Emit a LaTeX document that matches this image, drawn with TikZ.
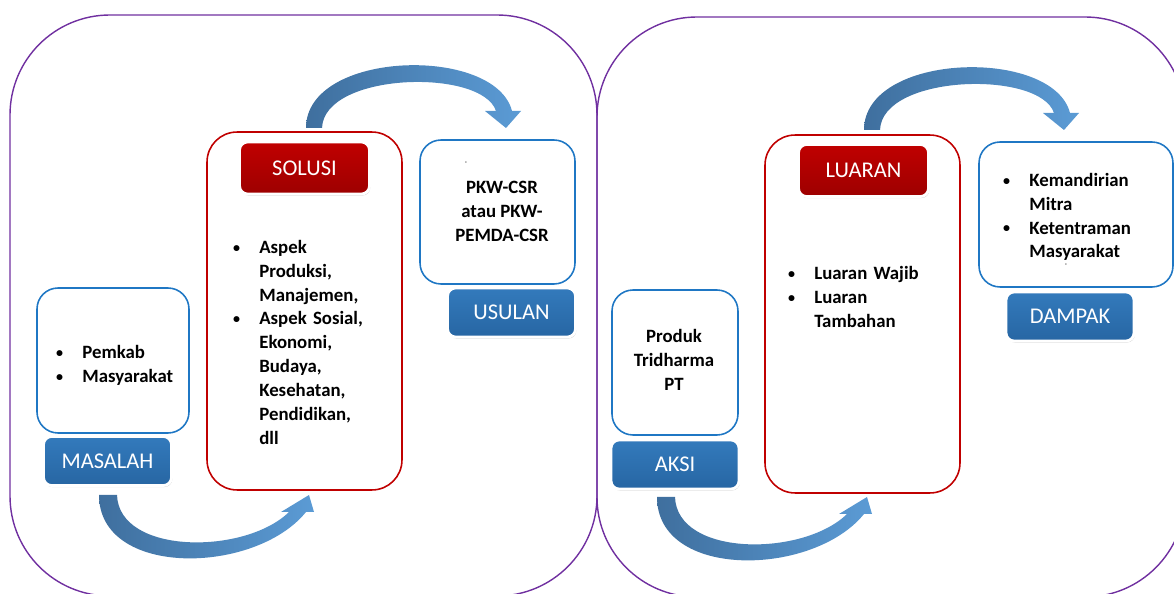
\documentclass[tikz,border=0pt]{standalone}
\usepackage{fontspec}
\setmainfont{Carlito}
\usetikzlibrary{shadows}
\definecolor{ungu}{HTML}{7030A0}
\definecolor{biru}{HTML}{1F77C4}
\definecolor{merah}{HTML}{C00000}
\definecolor{birumuda}{HTML}{337ABC}
\definecolor{birutua}{HTML}{2766A3}
\definecolor{panahtua}{HTML}{3F6F9E}
\definecolor{panahmuda}{HTML}{5B9BD5}
\newcommand{\butir}[1]{\par\noindent\hangindent=0.54cm\hangafter=1\makebox[0.54cm][l]{\hspace{0.5pt}\raisebox{0.6pt}{\fontsize{8}{8}\selectfont\textbullet}}#1\par}
\begin{document}
\begin{tikzpicture}[x=0.02cm, y=-0.02cm, line join=round,
	panel/.style={draw=ungu, line width=0.8pt, rounded corners=2cm},
	isi/.style={draw=biru, line width=0.9pt, rounded corners=0.42cm},
	kotak/.style={draw=merah, line width=0.9pt, rounded corners=0.6cm},
	tombol/.style={rounded corners=0.16cm, draw=white, line width=1.6pt, text=white,
		font=\fontsize{12.8}{15}\selectfont,
		drop shadow={shadow xshift=0.5pt, shadow yshift=-0.9pt, opacity=0.35}},
	tombolbiru/.style={tombol, top color=birumuda, bottom color=birutua, minimum width=2.56cm, minimum height=0.98cm},
	tombolmerah/.style={tombol, top color=merah, bottom color=merah!82!black, minimum width=2.6cm, minimum height=1.04cm},
	teks/.style={inner sep=0pt, font=\bfseries\fontsize{10.7}{13.6}\selectfont},
	panah/.style={left color=panahtua, right color=panahmuda}]
	\useasboundingbox (0,0) rectangle (1174,594);
	% panel kiri dan kanan
	\draw[panel] (10,15) rectangle (597,596);
	\draw[panel] (597,17) rectangle (1185,597);
	% kotak isi
	\node[isi, minimum width=3.04cm, minimum height=2.9cm] (masalahbox) at (113,360.5) {};
	\node[kotak, minimum width=3.9cm, minimum height=7.16cm] (solusibox) at (304.5,311) {};
	\node[isi, minimum width=3.1cm, minimum height=2.88cm] (usulanbox) at (497.5,212) {};
	\node[isi, minimum width=2.52cm, minimum height=2.9cm] (aksibox) at (675,362.5) {};
	\node[kotak, minimum width=3.9cm, minimum height=7.16cm] (luaranbox) at (862.5,314) {};
	\node[isi, minimum width=3.88cm, minimum height=2.9cm] (dampakbox) at (1076,214.5) {};
	% tombol judul
	\foreach \n/\x/\y/\t in {masalah/107.5/461/MASALAH, usulan/511.5/312.5/USULAN, aksi/675/464.5/AKSI, dampak/1070/316.5/DAMPAK}
		\node[tombolbiru] (\n) at (\x,\y) {\t};
	\foreach \n/\x/\y/\t in {solusi/304.5/168/SOLUSI, luaran/863.5/170.5/LUARAN}
		\node[tombolmerah] (\n) at (\x,\y) {\t};
	% teks
	\node[teks, text width=3cm, anchor=north west] (masalahtxt) at (55,334) {\butir{Pemkab}\butir{Masyarakat}};
	\node[teks, text width=3.4cm, anchor=north west] (solusitxt) at (232,229) {\butir{Aspek\newline Produksi,\newline Manajemen,}\butir{Aspek Sosial,\newline Ekonomi,\newline Budaya,\newline Kesehatan,\newline Pendidikan,\newline dll}};
	\node[teks, align=center, anchor=north] (usulantxt) at (502,181) {PKW-CSR\\atau PKW-\\PEMDA-CSR};
	\node[teks, align=center, anchor=north] (aksitxt) at (674,329) {Produk\\Tridharma\\PT};
	\node[teks, text width=3.4cm, anchor=north west] (luarantxt) at (787,255) {\butir{Luaran Wajib}\butir{Luaran\newline Tambahan}};
	\node[teks, text width=3.6cm, anchor=north west] (dampaktxt) at (1002,162) {\butir{Kemandirian\newline Mitra}\butir{Ketentraman\newline Masyarakat}};
	\node[inner sep=0pt, font=\fontsize{4}{4}\selectfont] (strip1) at (466,163) {-};
	\node[inner sep=0pt, font=\fontsize{4}{4}\selectfont] (strip2) at (1066,265) {-};
	% panah lengkung
	\foreach \dx/\dy in {0/0,558/2}{
		\begin{scope}[shift={(\dx,\dy)}]
			\shade[panah] (306,128) .. controls (306,50) and (495,45) .. (512,111) -- (521,111) -- (506,128) -- (485,111) -- (496,111) .. controls (482,68) and (324,72) .. (322,128) -- cycle;
			\shade[panah] (99,495) .. controls (99,578) and (255,575) .. (306,512) -- (314,512) -- (309,495) -- (281,512) -- (289,512) .. controls (245,555) and (119,555) .. (117,495) -- cycle;
		\end{scope}}
\end{tikzpicture}
\end{document}
